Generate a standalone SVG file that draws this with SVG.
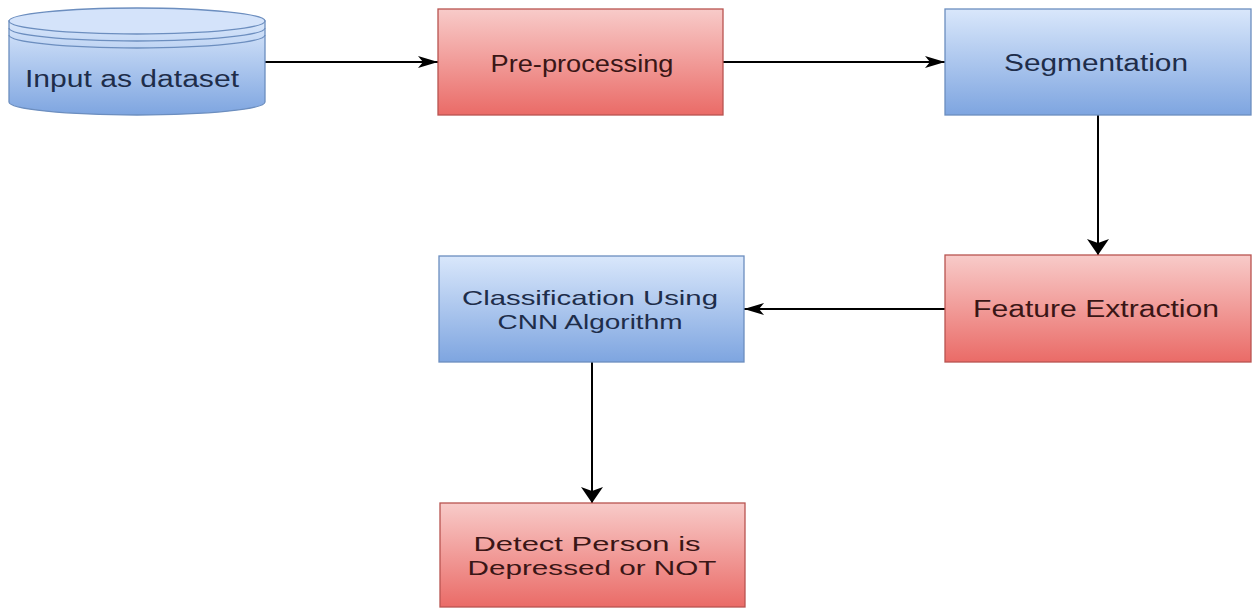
<svg xmlns="http://www.w3.org/2000/svg" width="1253" height="608" viewBox="0 0 1253 608">
<defs>
<linearGradient id="gRed" x1="0" y1="0" x2="0" y2="1">
<stop offset="0" stop-color="#f8cbc9"/>
<stop offset="1" stop-color="#ea6b67"/>
</linearGradient>
<linearGradient id="gBlue" x1="0" y1="0" x2="0" y2="1">
<stop offset="0" stop-color="#d9e7fb"/>
<stop offset="1" stop-color="#7ea5e0"/>
</linearGradient>
<marker id="arrH" markerUnits="userSpaceOnUse" viewBox="0 -7 20 14" refX="20" refY="0" markerWidth="20" markerHeight="14" orient="auto">
<path d="M0,-6 L20,0 L0,6 L5,0 Z" fill="#000"/>
</marker>
<marker id="arrV" markerUnits="userSpaceOnUse" viewBox="0 -12 16 24" refX="16" refY="0" markerWidth="16" markerHeight="24" orient="auto">
<path d="M0,-11 L16,0 L0,11 L4,0 Z" fill="#000"/>
</marker>
<style>
.red{fill:url(#gRed);stroke:#b85450;stroke-width:1.3}
.blue{fill:url(#gBlue);stroke:#6c8ebf;stroke-width:1.3}
.t{font-family:"Liberation Sans",Arial,sans-serif;font-size:23px;text-anchor:middle}
.t2{font-size:21px}
.tr{fill:#3a1616}
.tb{fill:#1e2d4a}
.edge{fill:none;stroke:#000;stroke-width:2}
</style>
</defs>
<rect width="1253" height="608" fill="#ffffff"/>

<g id="connectors">
<path class="edge" d="M265,62 H438" marker-end="url(#arrH)"/>
<path class="edge" d="M723,62 H945" marker-end="url(#arrH)"/>
<path class="edge" d="M1098,115 V255" marker-end="url(#arrV)"/>
<path class="edge" d="M945,309 H744" marker-end="url(#arrH)"/>
<path class="edge" d="M592,362 V503" marker-end="url(#arrV)"/>
</g>

<g id="input">
<path class="blue" d="M9,21 V102 A128,13 0 0 0 265,102 V21 Z"/>
<ellipse class="blue" cx="137" cy="21" rx="128" ry="13" style="fill:#d4e3fa"/>
<path d="M9,28 A128,13 0 0 0 265,28 M9,35 A128,13 0 0 0 265,35" fill="none" stroke="#6c8ebf" stroke-width="1.3"/>
<text class="t tb" x="132" y="87" textLength="214" lengthAdjust="spacingAndGlyphs">Input as dataset</text>
</g>

<g id="preprocessing">
<rect class="red" x="438" y="9" width="285" height="106"/>
<text class="t tr" x="582" y="72" textLength="183" lengthAdjust="spacingAndGlyphs">Pre-processing</text>
</g>

<g id="segmentation">
<rect class="blue" x="945" y="9" width="306" height="106"/>
<text class="t tb" x="1096" y="71" textLength="184" lengthAdjust="spacingAndGlyphs">Segmentation</text>
</g>

<g id="feature">
<rect class="red" x="945" y="255" width="306" height="107"/>
<text class="t tr" x="1096" y="317" textLength="246" lengthAdjust="spacingAndGlyphs">Feature Extraction</text>
</g>

<g id="classification">
<rect class="blue" x="439" y="256" width="305" height="106"/>
<text class="t t2 tb" x="590" y="305" textLength="256" lengthAdjust="spacingAndGlyphs">Classification Using</text>
<text class="t t2 tb" x="590" y="329" textLength="185" lengthAdjust="spacingAndGlyphs">CNN Algorithm</text>
</g>

<g id="detect">
<rect class="red" x="440" y="503" width="305" height="104"/>
<text class="t t2 tr" x="587" y="551" textLength="227" lengthAdjust="spacingAndGlyphs">Detect Person is</text>
<text class="t t2 tr" x="592" y="575" textLength="249" lengthAdjust="spacingAndGlyphs">Depressed or NOT</text>
</g>
</svg>
